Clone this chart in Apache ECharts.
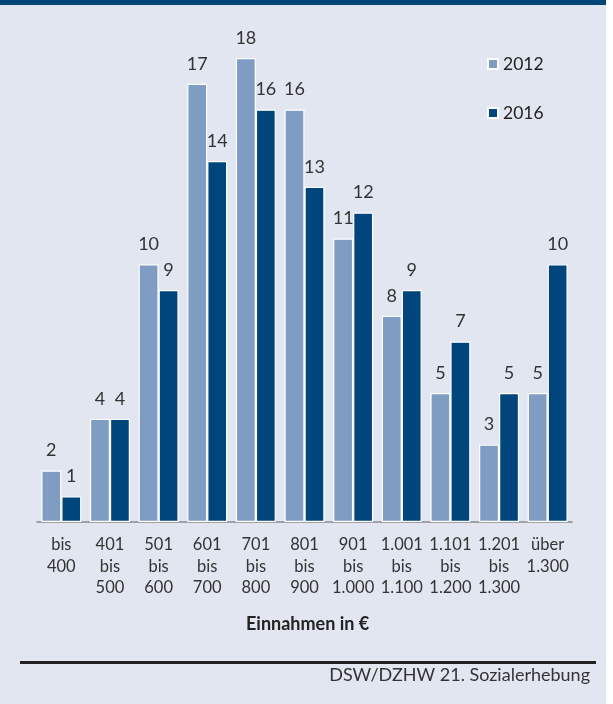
<!DOCTYPE html>
<html>
<head>
<meta charset="utf-8">
<script src="https://cdn.jsdelivr.net/npm/echarts@6/dist/echarts.min.js"></script>
<style>
  html, body { margin: 0; padding: 0; background: #ffffff; }
  #main { width: 613px; height: 704px; }
</style>
</head>
<body>
<div id="main"></div>
<script>
// Einnahmen-Klassen
const categories = ['bis\n400', '401\nbis\n500', '501\nbis\n600', '601\nbis\n700', '701\nbis\n800',
  '801\nbis\n900', '901\nbis\n1.000', '1.001\nbis\n1.100', '1.101\nbis\n1.200', '1.201\nbis\n1.300', 'über\n1.300'];
const values2012 = [2, 4, 10, 17, 18, 16, 11, 8, 5, 3, 5];
const values2016 = [1, 4, 9, 14, 16, 13, 12, 9, 7, 5, 10];

const fontName = 'Lato';
let chart = echarts.init(document.getElementById('main'));

chart.setOption({
  animation: false,
  textStyle: { fontFamily: fontName },
  grid: { left: 37, right: 41, top: 58, bottom: 182 },
  legend: {
    orient: 'vertical',
    left: 487,
    top: 55,
    padding: 0,
    itemGap: 31,
    itemWidth: 10,
    itemHeight: 10,
    icon: 'rect',
    textStyle: { fontSize: 17.5, color: '#222', fontFamily: fontName },
    data: ['2012', '2016']
  },
  xAxis: {
    type: 'category',
    data: categories,
    axisLine: { lineStyle: { color: '#8a8a8a', width: 1.5 } },
    axisTick: { length: 6, lineStyle: { color: '#8a8a8a', width: 1.5 } },
    axisLabel: { color: '#333', fontSize: 16.5, lineHeight: 21.5, margin: 12, interval: 0, fontFamily: fontName }
  },
  yAxis: { type: 'value', min: 0, max: 18, show: false },
  series: [
    {
      name: '2012',
      type: 'bar',
      data: values2012,
      barWidth: 20,
      barGap: '0%',
      itemStyle: { color: '#7f9cc2', borderColor: '#ffffff', borderWidth: 1.2 },
      label: { show: true, position: 'top', distance: 11, color: '#333', fontSize: 18, fontFamily: fontName }
    },
    {
      name: '2016',
      type: 'bar',
      data: values2016,
      barWidth: 20,
      itemStyle: { color: '#00457c', borderColor: '#ffffff', borderWidth: 1.2 },
      label: { show: true, position: 'top', distance: 11, color: '#333', fontSize: 18, fontFamily: fontName }
    }
  ],
  graphic: [
    { type: 'rect', z: -10, silent: true, shape: { x: 0, y: 0, width: 606, height: 704 }, style: { fill: '#e1e6f0' } },
    { type: 'rect', z: -5, silent: true, shape: { x: 0, y: 0, width: 606, height: 5 }, style: { fill: '#00467b' } },
    { type: 'text', left: 246, top: 615, style: { text: 'Einnahmen in €', fontSize: 18, fontWeight: 'bold', fill: '#222', fontFamily: fontName } },
    { type: 'rect', silent: true, shape: { x: 20, y: 661, width: 576, height: 3 }, style: { fill: '#222' } },
    { type: 'text', right: 23, top: 666, style: { text: 'DSW/DZHW 21. Sozialerhebung', fontSize: 18, fill: '#333', fontFamily: fontName } }
  ]
});
</script>
</body>
</html>
